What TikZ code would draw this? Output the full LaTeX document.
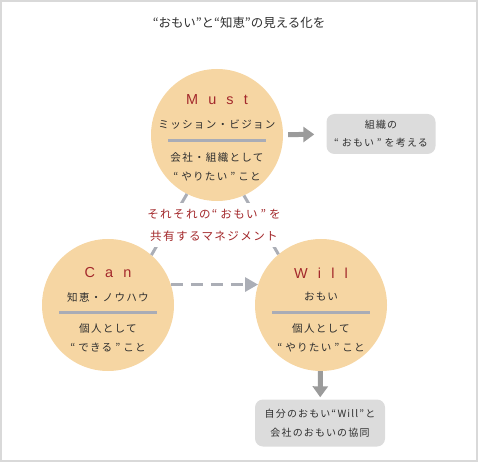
\documentclass[tikz,border=0pt]{standalone}
\usepackage{fontspec}
\setmainfont{Noto Sans CJK JP}
\newfontfamily\jpsp[LetterSpace=12]{Noto Sans CJK JP}
\newfontfamily\latinsp[LetterSpace=70]{Liberation Sans}
\usetikzlibrary{arrows.meta,calc}
\definecolor{Frame}{HTML}{D9D9D9}
\definecolor{Peach}{HTML}{F6D6A3}
\definecolor{Divider}{HTML}{A9ACB6}
\definecolor{Pebble}{HTML}{DCDCDC}
\definecolor{Arrow}{HTML}{9B9B9B}
\definecolor{Link}{HTML}{ABAEB6}
\definecolor{Crimson}{HTML}{A3282B}
\definecolor{Text}{HTML}{2E2E2E}
\newcommand\qopen{“\hspace{3bp}}
\newcommand\qclose{\hspace{3bp}”\hspace{3bp}}
\begin{document}
\begin{tikzpicture}[x=1bp,y=-1bp,text=Text,circ/.style={circle,fill=Peach,minimum size=132bp,inner sep=0pt},head/.style={font=\latinsp\fontsize{14.5}{16}\selectfont,text=Crimson},sub/.style={font=\jpsp\fontsize{10.6}{12}\selectfont},body/.style={font=\jpsp\fontsize{10.6}{19}\selectfont,align=center},divider/.style={draw=Divider,line width=3bp},note/.style={fill=Pebble,rounded corners=8bp,font=\jpsp\fontsize{10}{18.5}\selectfont,align=center,inner sep=0pt},link/.style={draw=Link,line width=3bp},bigarrow/.style={draw=Arrow,line width=5bp,-{Triangle[width=15bp,length=11bp]}},dasharrow/.style={draw=Link,line width=3bp,dash pattern=on 12bp off 8bp,-{Triangle[width=14bp,length=13bp]}}]
\useasboundingbox (0,0) rectangle (478,462);
\draw[Frame,line width=2bp] (1,1) rectangle (477,461);
\node[font=\fontsize{12.5}{14}\selectfont] (title) at (239,23){“おもい”と“知恵”の見える化を};
\node[circ] (must) at (217,135){};
\node[circ] (can) at (108,305){};
\node[circ] (will) at (321,305){};
\draw[link] (must.243) -- (can.49);\draw[link] (must.294) -- (will.130);
\node[fill=white,font=\jpsp\fontsize{11.6}{22}\selectfont,text=Crimson,align=center,inner xsep=2bp,inner ysep=6bp] (share) at (214,225){それそれの\qopen おもい\qclose を\\共有するマネジメント};
\draw[dasharrow] (can.18) -- (will.162);
\node[head] (musthead) at ($(must)+(0,-35)$){Must};
\node[sub] (mustsub) at ($(must)+(0,-10)$){ミッション・ビジョン};
\draw[divider] ($(must)+(-49,6)$) -- ($(must)+(49,6)$);
\node[body] (mustbody) at ($(must)+(0,31.5)$){会社・組織として\\\qopen やりたい\qclose こと};
\node[head] (canhead) at ($(can)+(0,-32)$){Can};
\node[sub] (cansub) at ($(can)+(0,-8)$){知恵・ノウハウ};
\draw[divider] ($(can)+(-49,7)$) -- ($(can)+(49,7)$);
\node[body] (canbody) at ($(can)+(0,32.5)$){個人として\\\qopen できる\qclose こと};
\node[head] (willhead) at ($(will)+(0,-32)$){Will};
\node[sub] (willsub) at ($(will)+(0,-8)$){おもい};
\draw[divider] ($(will)+(-49,7)$) -- ($(will)+(49,7)$);
\node[body] (willbody) at ($(will)+(0,32.5)$){個人として\\\qopen やりたい\qclose こと};
\node[note,minimum width=109bp,minimum height=40bp] (orgbox) at (381,134){組織の\\\qopen おもい\qclose を考える};
\node[note,minimum width=130bp,minimum height=47bp] (coopbox) at (320,423){自分のおもい“Will”と\\会社のおもいの協同};
\draw[bigarrow,shorten <=5bp,shorten >=12bp] (must) -- (orgbox);
\draw[bigarrow,shorten >=2bp] (will) -- (coopbox);
\end{tikzpicture}
\end{document}
